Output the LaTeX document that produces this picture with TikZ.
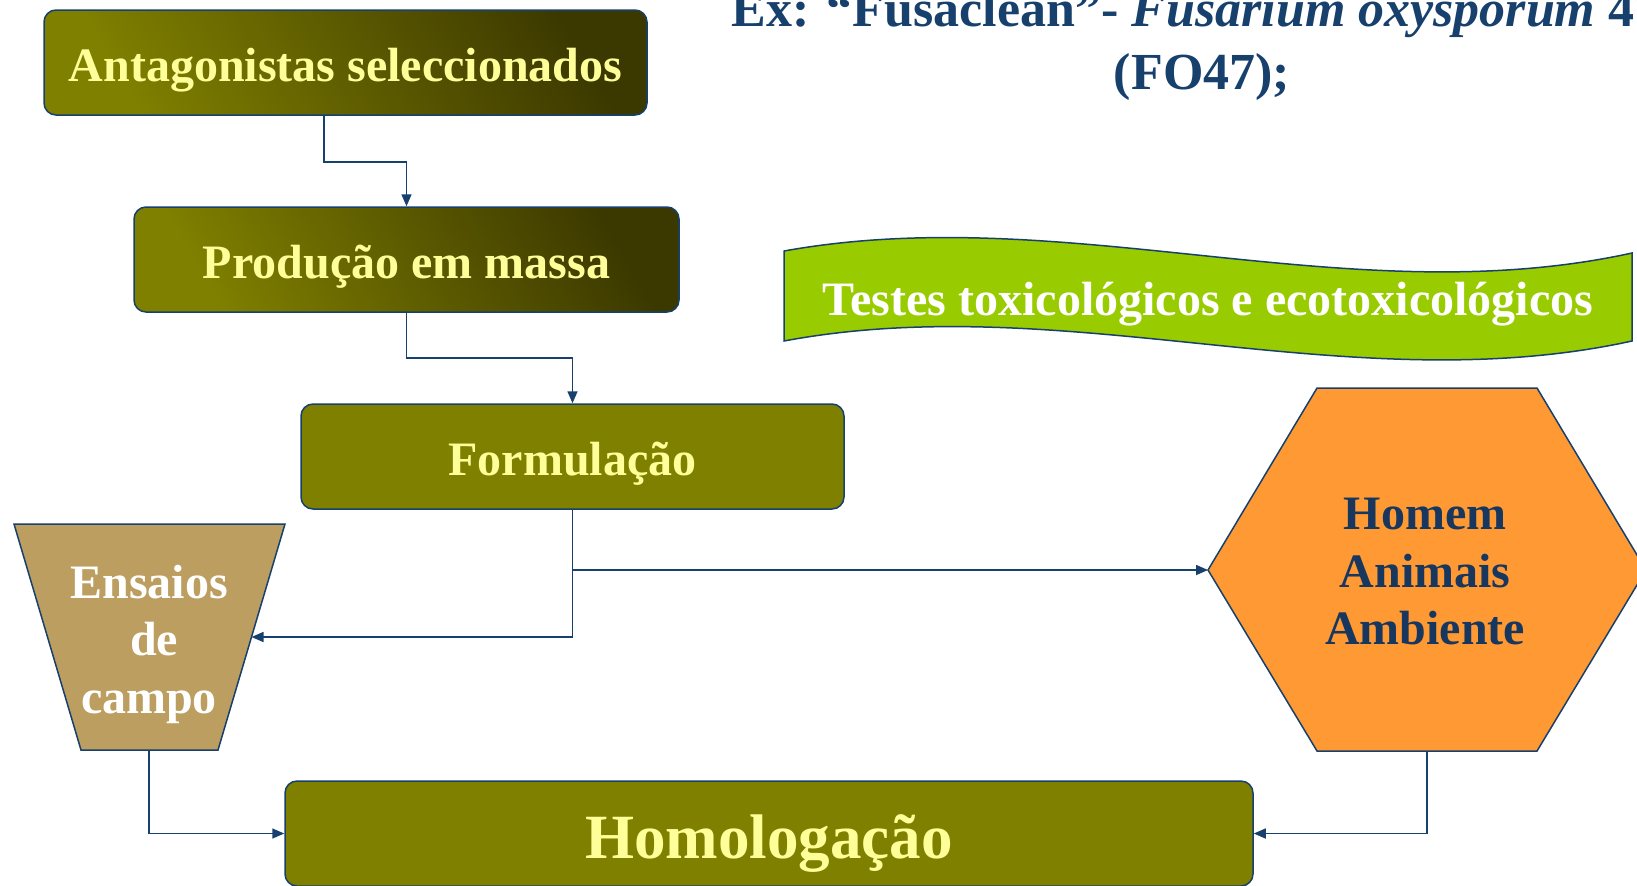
\documentclass[tikz,border=0pt]{standalone}
\usepackage{fontspec}
\setmainfont{Liberation Serif}
\usetikzlibrary{arrows.meta,calc}
\definecolor{navy}{HTML}{17406D}
\definecolor{olivebox}{HTML}{808000}
\definecolor{darkolive}{HTML}{3C3900}
\definecolor{paleyellow}{HTML}{FFFF99}
\definecolor{limegreen}{HTML}{99CC00}
\definecolor{tanbox}{HTML}{BC9E60}
\definecolor{orangehex}{HTML}{FF9933}
\definecolor{hextext}{HTML}{17375E}
\begin{document}
\begin{tikzpicture}[x=0.5pt,y=-0.5pt,
  box/.style={draw=navy, line width=0.75pt, rounded corners=6pt, minimum height=52.5pt, text=paleyellow, font=\fontsize{24}{28}\selectfont\bfseries, inner sep=0pt, text height=18.5pt, text depth=0pt},
  gradbox/.style={box, top color=darkolive, bottom color=olivebox, shading angle=-60},
  flatbox/.style={box, fill=olivebox},
  conn/.style={draw=navy, line width=0.75pt, -{Triangle[length=6pt,width=5pt]}},
  shapeline/.style={draw=navy, line width=0.75pt},
  bigtext/.style={font=\fontsize{24}{28.75}\selectfont\bfseries, align=center, inner sep=0pt}]
\useasboundingbox (0,0) rectangle (1637,885);
\clip (0,0) rectangle (1637,885);

% top text
\node[anchor=base, text=navy, font=\fontsize{26}{31}\selectfont\bfseries] (ex) at (1196,26) {Ex: “Fusaclean”- \textit{Fusarium oxysporum} 47};
\node[anchor=base, text=navy, font=\fontsize{26}{31}\selectfont\bfseries] (fo) at (1202,89) {(FO47);};

% boxes
\node[gradbox, minimum width=301.5pt] (b1) at (345.5,62.5) {Antagonistas seleccionados};
\node[gradbox, minimum width=272.5pt] (b2) at (406.5,259.5) {Produção em massa};
\node[flatbox, minimum width=271.5pt] (b3) at (572.5,456.5) {Formulação};
\node[flatbox, minimum width=484pt, font=\fontsize{31.5}{36}\selectfont\bfseries, text height=24.5pt] (homo) at (769,833.5) {Homologação};

% banner
\filldraw[shapeline, fill=limegreen] (784,251) .. controls (1067,200) and (1349,315) .. (1632,253) -- (1632,341) .. controls (1349,403) and (1067,288) .. (784,341) -- cycle;
\node[bigtext, text=white, text height=18.5pt, text depth=0pt] (tests) at (1208,297) {Testes toxicológicos e ecotoxicológicos};

% trapezoid
\filldraw[shapeline, fill=tanbox] (14,524) -- (285,524) -- (218,750) -- (81,750) -- cycle;
\node[bigtext, text=white] (field) at (149,644) {Ensaios\\\hspace*{5pt}de\\campo};
\coordinate (trapR) at (251.5,637);
\coordinate (trapB) at (149,750);

% hexagon
\filldraw[shapeline, fill=orangehex] (1208,570) -- (1317,388) -- (1537,388) -- (1646,570) -- (1537,751) -- (1317,751) -- cycle;
\node[bigtext, text=hextext] (hex) at (1425,572) {Homem\\Animais\\Ambiente};
\coordinate (hexL) at (1208,570);
\coordinate (hexB) at (1427,751);

% connectors
\draw[conn] ([xshift=-10.75pt]b1.south) -- ++(0,46) -| (b2.north);
\draw[conn] (b2.south) -- ++(0,45) -| (b3.north);
\draw[conn] (b3.south) |- (trapR);
\draw[conn] (b3.south |- hexL) -- (hexL);
\draw[conn] (trapB) |- (homo.west);
\draw[conn] (hexB) |- (homo.east);
\end{tikzpicture}
\end{document}
